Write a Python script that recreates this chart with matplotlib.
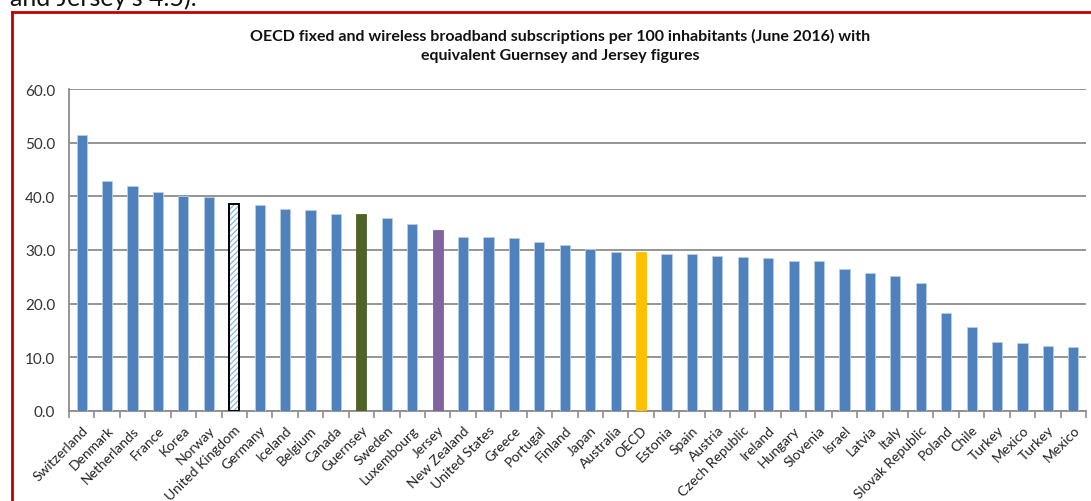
import numpy as np
import matplotlib
matplotlib.use("Agg")
import matplotlib.pyplot as plt
from matplotlib.lines import Line2D

plt.rcParams['font.family'] = ['Lato', 'DejaVu Sans']
plt.rcParams['hatch.linewidth'] = 0.9

countries = ['Switzerland', 'Denmark', 'Netherlands', 'France', 'Korea', 'Norway',
             'United Kingdom', 'Germany', 'Iceland', 'Belgium', 'Canada', 'Guernsey',
             'Sweden', 'Luxembourg', 'Jersey', 'New Zealand', 'United States', 'Greece',
             'Portugal', 'Finland', 'Japan', 'Australia', 'OECD', 'Estonia', 'Spain',
             'Austria', 'Czech Republic', 'Ireland', 'Hungary', 'Slovenia', 'Israel',
             'Latvia', 'Italy', 'Slovak Republic', 'Poland', 'Chile', 'Turkey', 'Mexico',
             'Turkey', 'Mexico']
values = [51.5, 42.8, 41.9, 40.9, 40.0, 39.8,
          38.6, 38.3, 37.7, 37.4, 36.8, 36.8,
          36.0, 34.9, 33.7, 32.4, 32.4, 32.2,
          31.4, 31.0, 30.1, 29.6, 29.6, 29.2, 29.2,
          28.8, 28.7, 28.5, 27.95, 27.95, 26.4,
          25.8, 25.2, 23.8, 18.2, 15.6, 12.8, 12.6,
          12.2, 12.0]
yticks = [0, 10, 20, 30, 40, 50, 60]

title = ('OECD fixed and wireless broadband subscriptions per 100 inhabitants (June 2016) with\n'
         'equivalent Guernsey and Jersey figures')

blue = '#4F81BD'
special = {'Guernsey': '#4F6228', 'Jersey': '#8064A2', 'OECD': '#FFC000'}

fig = plt.figure(figsize=(10.91, 5.02), dpi=100)
ax = fig.add_axes([69 / 1091, 90 / 502, (1086 - 69) / 1091, (412 - 90) / 502])

x = np.arange(len(countries))
for i, (c, v) in enumerate(zip(countries, values)):
    if c == 'United Kingdom':
        # hatched fill in light blue, then a black outline on top
        ax.bar(i, v, width=0.4, color='white', edgecolor='#8DB3E2', hatch='//////',
               linewidth=0, zorder=3)
        ax.bar(i, v, width=0.4, fill=False, edgecolor='black', linewidth=1.4, zorder=4)
    else:
        col = special.get(c, blue)
        ec = '#B9CDE5' if c not in special else col
        ax.bar(i, v, width=0.4, color=col, edgecolor=ec, linewidth=0.6, zorder=3)

ax.set_xlim(-0.5, len(countries) - 0.5)
ax.set_ylim(0, 60)
ax.set_yticks(yticks)
ax.set_yticklabels(['%.1f' % t for t in yticks], fontsize=11, color='#333333')
ax.yaxis.grid(True, color='#8C8C8C', linewidth=1.3, zorder=0)
ax.tick_params(axis='y', length=0, pad=10)

ax.set_xticks(x)
ax.set_xticklabels(countries, rotation=45, ha='right', va='top',
                   rotation_mode='anchor', fontsize=10, color='#222222')
ax.tick_params(axis='x', which='major', length=0, pad=9)
ax.set_xticks(np.arange(-0.5, len(countries)), minor=True)
ax.tick_params(axis='x', which='minor', length=5, width=1.2, color='#8C8C8C', direction='out')

for s in ['top', 'right']:
    ax.spines[s].set_visible(False)
for s in ['left', 'bottom']:
    ax.spines[s].set_color('#8C8C8C')
    ax.spines[s].set_linewidth(1.3)

fig.text(560 / 1091, 1 - 29 / 502, title, ha='center', va='top', fontsize=11.5,
         fontweight='bold', linespacing=1.45, color='#111111')

# text cut off from the page above the chart
fig.text(10 / 1091, 1 - 6 / 502, "and Jersey's 4.5).", ha='left', va='baseline',
         fontsize=18, color='#111111')

# red frame
fig.add_artist(Line2D([12 / 1091, 12 / 1091], [0, 1 - 13 / 502], color='#C00000',
                      linewidth=2, transform=fig.transFigure))
fig.add_artist(Line2D([12 / 1091, 1], [1 - 13 / 502, 1 - 13 / 502], color='#C00000',
                      linewidth=2, transform=fig.transFigure))

fig.savefig('out.png', dpi=100)
